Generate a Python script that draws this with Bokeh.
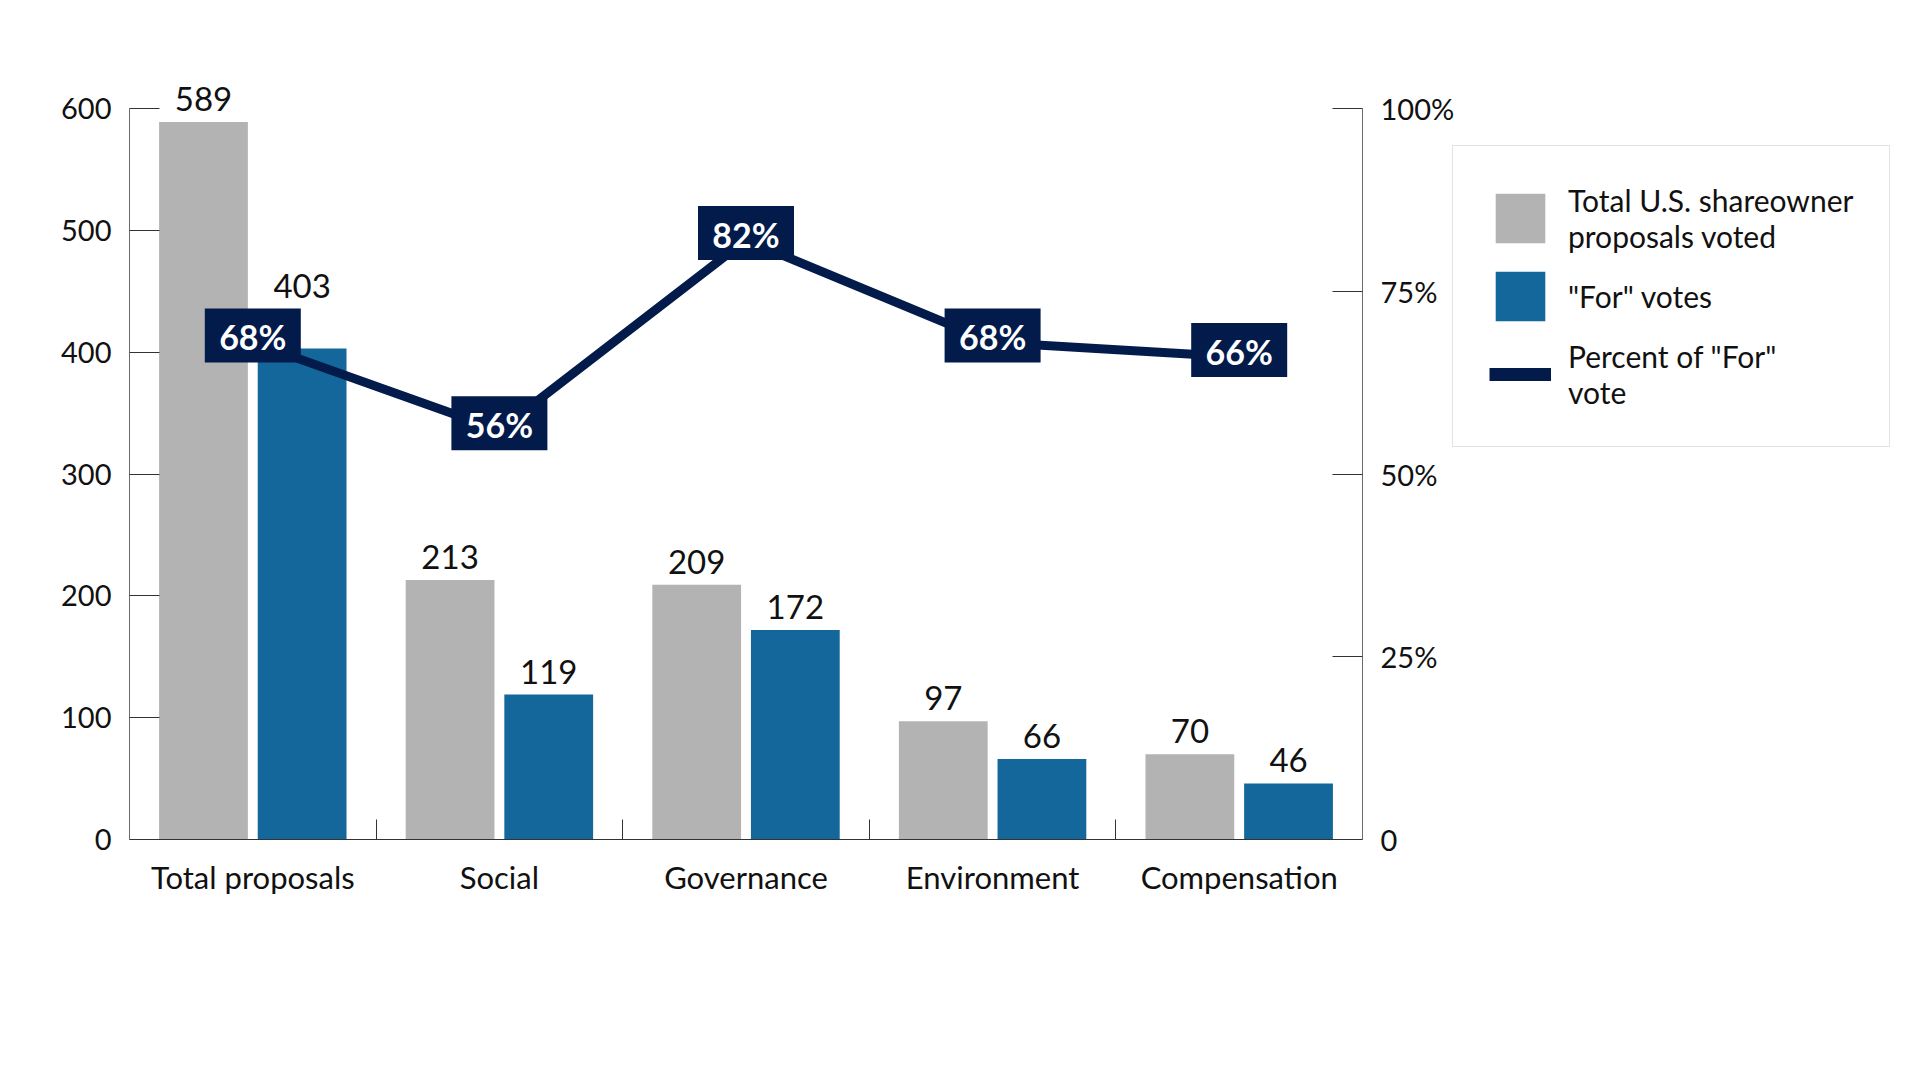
from bokeh.plotting import figure
from bokeh.models import Range1d, LinearAxis, FixedTicker, ColumnDataSource, Legend, LegendItem
from bokeh.embed import file_html
from bokeh.resources import INLINE
from bokeh.core.properties import value

# ---------------- data ----------------
categories = ["Total proposals", "Social", "Governance", "Environment", "Compensation"]
total_voted = [589, 213, 209, 97, 70]
for_votes = [403, 119, 172, 66, 46]
pct_for = [68, 56, 82, 68, 66]
left_ticks = [0, 100, 200, 300, 400, 500, 600]
right_ticks = [0, 25, 50, 75, 100]
right_tick_labels = ["0", "25%", "50%", "75%", "100%"]
legend_labels = ["Total U.S. shareowner\nproposals voted", "\"For\" votes", "Percent of \"For\"\nvote"]

# ---------------- style ----------------
FONT = "Lato"
GRAY = "#b3b3b3"
BLUE = "#14679b"
NAVY = "#021b4b"
TXT = "#111111"
AXIS = "#6b6b6b"

N = len(categories)
Y_MAX, P_MAX = 600, 100
AXIS_H = 731            # pixel height of the 0..600 axis
AXIS_W = 1233           # pixel width of the category axis
EXTRA_T = 68            # room above the axis for the top bar label
EXTRA_B = 80            # room below the axis for the category labels
BL, BT, BR = 129, 40, 5
W, H = 1910, 1000
FRAME_W = W - BL - BR   # frame also hosts the legend on the right
FRAME_H = AXIS_H + EXTRA_T + EXTRA_B

x_end = N * FRAME_W / AXIS_W
y_end = Y_MAX + EXTRA_T * Y_MAX / AXIS_H
y_start = -EXTRA_B * Y_MAX / AXIS_H
p_end = P_MAX + EXTRA_T * P_MAX / AXIS_H
p_start = -EXTRA_B * P_MAX / AXIS_H

p = figure(width=W, height=H, x_range=Range1d(0, x_end), y_range=Range1d(y_start, y_end),
           x_axis_type=None, y_axis_type=None, output_backend="svg", toolbar_location=None,
           min_border_left=BL, min_border_top=BT, min_border_right=BR,
           min_border_bottom=H - BT - FRAME_H)
p.extra_y_ranges = {"pct": Range1d(p_start, p_end)}
p.xgrid.visible = False
p.ygrid.visible = False
p.outline_line_color = None
p.background_fill_color = "white"
p.border_fill_color = "white"

# axes
left = LinearAxis(ticker=FixedTicker(ticks=left_ticks, minor_ticks=[]), bounds=(0, Y_MAX),
                  major_tick_in=30, major_tick_out=0, major_label_standoff=18,
                  axis_line_color=AXIS, major_tick_line_color="#333333",
                  major_label_text_font=FONT, major_label_text_font_size="29px",
                  major_label_text_color=TXT)
p.add_layout(left, "left")

right = LinearAxis(y_range_name="pct", ticker=FixedTicker(ticks=right_ticks, minor_ticks=[]),
                   bounds=(0, P_MAX), fixed_location=N,
                   major_label_overrides={t: l for t, l in zip(right_ticks, right_tick_labels)},
                   major_tick_in=30, major_tick_out=0, major_label_standoff=18,
                   axis_line_color=AXIS, major_tick_line_color="#333333",
                   major_label_text_font=FONT, major_label_text_font_size="29px",
                   major_label_text_color=TXT)
p.add_layout(right, "right")

centers = [i + 0.5 for i in range(N)]
bottom = LinearAxis(ticker=FixedTicker(ticks=centers, minor_ticks=list(range(1, N))),
                    bounds=(0, N), fixed_location=0,
                    major_label_overrides={c: n for c, n in zip(centers, categories)},
                    major_tick_line_color=None, major_tick_in=0, major_tick_out=0,
                    minor_tick_in=20, minor_tick_out=0, minor_tick_line_color="#333333",
                    major_label_standoff=18, axis_line_color="#333333",
                    major_label_text_font=FONT, major_label_text_font_size="31px",
                    major_label_text_color=TXT)
p.add_layout(bottom, "below")

# bars
gray_src = ColumnDataSource(dict(x=[c - 0.2 for c in centers], top=total_voted,
                                 lab=[str(v) for v in total_voted]))
blue_src = ColumnDataSource(dict(x=[c + 0.2 for c in centers], top=for_votes,
                                 lab=[str(v) for v in for_votes]))
r_gray = p.vbar(x="x", top="top", width=0.36, source=gray_src, fill_color=GRAY, line_color=None)
r_blue = p.vbar(x="x", top="top", width=0.36, source=blue_src, fill_color=BLUE, line_color=None)

# percent line
r_line = p.line(centers, pct_for, y_range_name="pct", line_color=NAVY, line_width=9)

# value labels (lift a blue label above the percent box when they collide)
px_per_unit = AXIS_H / Y_MAX
px_per_pct = AXIS_H / P_MAX
BOX_W, BOX_H, BOX_SHIFT = 96, 54, 7
gap = 23
blue_offsets = []
for v, pc in zip(for_votes, pct_for):
    bar_top = v * px_per_unit
    box_c = pc * px_per_pct + BOX_SHIFT
    box_top, box_bot = box_c + BOX_H / 2, box_c - BOX_H / 2
    base = bar_top + gap
    if base - 11 < box_top and base + 14 > box_bot:
        base = box_top + 22
    blue_offsets.append(-(base - bar_top))
blue_src.data["yo"] = blue_offsets
gray_src.data["yo"] = [-gap] * len(total_voted)

for src in (gray_src, blue_src):
    p.text(x="x", y="top", text="lab", source=src, y_offset="yo", text_align="center",
           text_baseline="alphabetic", text_font=value(FONT), text_font_size="33px",
           text_color=TXT)

# percent boxes
box_y = [v + BOX_SHIFT / px_per_pct for v in pct_for]
p.rect(centers, box_y, width=BOX_W, height=BOX_H, width_units="screen", height_units="screen",
       y_range_name="pct", fill_color=NAVY, line_color=None)
p.text(centers, box_y, text=[f"{v}%" for v in pct_for], y_range_name="pct",
       text_align="center", text_baseline="middle", text_font=value(FONT),
       text_font_size="34px", text_font_style="bold", text_color="white", y_offset=1)

# legend (swatch renderer for the line item sits outside the visible ranges)
r_leg_line = p.line([0, 1], [2 * y_start, 2 * y_start], line_color=NAVY, line_width=13,
                    line_cap="butt")
legend = Legend(items=[LegendItem(label=legend_labels[0], renderers=[r_gray]),
                       LegendItem(label=legend_labels[1], renderers=[r_blue]),
                       LegendItem(label=legend_labels[2], renderers=[r_leg_line])],
                location=(1323, 392 + EXTRA_B), orientation="vertical", margin=0,
                glyph_width=62, glyph_height=62, label_standoff=17, padding=36, spacing=11,
                border_line_color="#c8c8c8", border_line_width=1.5,
                background_fill_color="white", background_fill_alpha=1,
                label_text_font=FONT, label_text_font_size="30px", label_text_color=TXT,
                label_text_line_height=1.28)
p.add_layout(legend, "center")

open("out.html", "w").write(file_html(p, INLINE))
